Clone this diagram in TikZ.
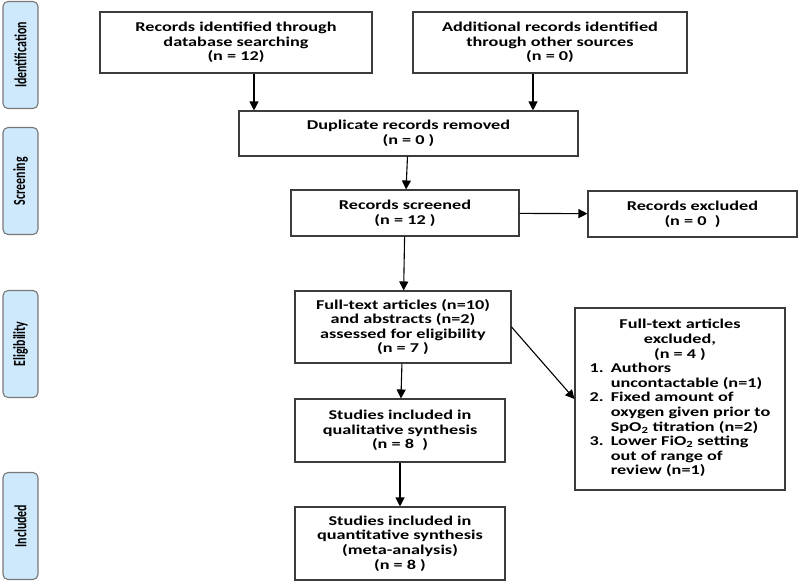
\documentclass[tikz,border=0pt]{standalone}
\usepackage{fontspec}
\setmainfont{Carlito}[FakeStretch=1.35]
\newfontfamily\sidefont{Carlito}[FakeStretch=0.7]
\usetikzlibrary{arrows.meta}
\usetikzlibrary{positioning}

\definecolor{sideblue}{RGB}{207,233,252}
\definecolor{sidegrey}{RGB}{120,120,120}
\definecolor{boxgrey}{RGB}{60,60,60}

\begin{document}
\begin{tikzpicture}[x=1pt,y=-1pt,->,>={Triangle[length=9pt,width=9pt]},line width=1.1pt,
    font=\bfseries\fontsize{13.5}{14.6}\selectfont]
  \tikzset{box/.style={draw=boxgrey,rectangle,align=center,inner sep=0pt}}
  \tikzset{side/.style={draw=sidegrey,fill=sideblue,rounded corners=5pt,rotate=90,
      minimum width=107pt,minimum height=35pt,inner sep=0pt,
      font=\sidefont\bfseries\fontsize{17}{17}\selectfont}}
  \useasboundingbox (0,0) rectangle (800,581);

  % stages
  \node[side] (ident) at (20.5,55) {Identification};
  \node[side] (screen) at (20.5,181) {Screening};
  \node[side] (elig) at (20.5,344) {Eligibility};
  \node[side] (incl) at (20.5,526) {Included};

  % boxes
  \node[box,minimum width=272pt,minimum height=61pt] (dbrec) at (236,42.5)
    {Records identified through\\database searching\\(n = 12)};
  \node[box,minimum width=274pt,minimum height=61pt] (othrec) at (550,42.5)
    {Additional records identified\\through other sources\\(n = 0)};
  \node[box,minimum width=339pt,minimum height=45pt] (dup) at (408.5,133.5)
    {Duplicate records removed\\(n = 0 )};
  \node[box,minimum width=228pt,minimum height=46pt] (scr) at (405,213)
    {Records screened\\(n = 12 )};
  \node[box,minimum width=209pt,minimum height=46pt] (scrout) at (692.5,214)
    {Records excluded\\(n = 0\ \ )};
  \node[box,minimum width=216pt,minimum height=72pt] (full) at (403,327)
    {Full-text articles (n=10)\\and abstracts (n=2)\\assessed for eligibility\\(n = 7 )};
  \node[box,minimum width=210pt,minimum height=182pt] (fullout) at (680,399)
    {\begin{tabular}{@{}l@{\hspace{7pt}}l@{}}
      \multicolumn{2}{c}{Full-text articles}\\
      \multicolumn{2}{c}{excluded,}\\
      \multicolumn{2}{c}{(n = 4 )}\\
      1. & Authors\\
         & uncontactable (n=1)\\
      2. & Fixed amount of\\
         & oxygen given prior to\\
         & SpO\textsubscript{2} titration (n=2)\\
      3. & Lower FiO\textsubscript{2} setting\\
         & out of range of\\
         & review (n=1)
    \end{tabular}};
  \node[box,minimum width=210pt,minimum height=63pt] (qual) at (400,430.5)
    {Studies included in\\qualitative synthesis\\(n = 8\ \ )};
  \node[box,minimum width=210pt,minimum height=73pt] (quant) at (400,543.5)
    {Studies included in\\quantitative synthesis\\(meta-analysis)\\(n = 8 )};

  % connectors
  \draw ([xshift=18pt]dbrec.south) -- ([xshift=18pt]dbrec.south |- dup.north);
  \draw ([xshift=-17pt]othrec.south) -- ([xshift=-17pt]othrec.south |- dup.north);
  \path (dup) edge (scr)
        (scr) edge (scrout)
        (scr) edge (full)
        (full.east) edge (fullout.west)
        (full) edge (qual)
        (qual) edge (quant);
\end{tikzpicture}
\end{document}
